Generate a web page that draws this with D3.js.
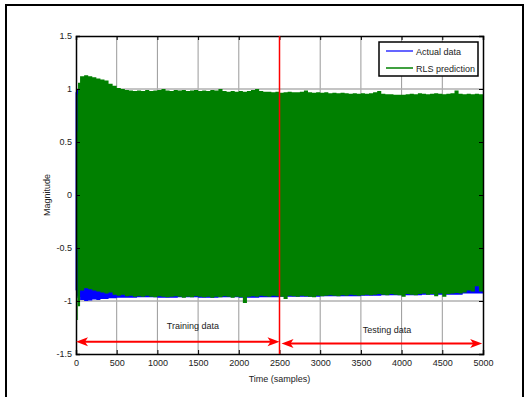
<!DOCTYPE html>
<html>
<head>
<meta charset="utf-8">
<script src="https://cdn.jsdelivr.net/npm/d3@7"></script>
<style>
  body { margin: 0; background: #fff; }
  text { font-family: "Liberation Sans", Arial, sans-serif; fill: #222; }
</style>
</head>
<body>
<svg id="canvas" width="530" height="397"></svg>
<script>
// envelope of the RLS prediction (green)
const predX = [0, 8, 16, 25].concat(d3.range(50, 5001, 50));
const predUpper = [0, 0.6, 0.95, 1.06,
    1.12, 1.13, 1.12, 1.11, 1.10, 1.09, 1.08, 1.05, 1.03, 1.01,
    1.00, 0.99, 0.985, 0.98, 0.985, 0.98, 0.99, 0.98, 0.985, 0.99,
    1.00, 0.985, 0.98, 0.99, 0.985, 0.99, 0.98, 0.985, 0.99, 0.98,
    0.985, 0.98, 0.99, 0.985, 1.00, 0.98, 0.975, 0.98, 0.975, 0.98,
    0.975, 0.98, 0.99, 1.00, 0.98, 0.975, 0.975, 0.97, 0.975, 0.965,
    0.97, 0.975, 0.97, 0.97, 0.975, 0.985, 0.97, 0.965, 0.97, 0.965,
    0.97, 0.96, 0.965, 0.96, 0.965, 0.96, 0.955, 0.96, 0.955, 0.96,
    0.955, 0.96, 0.97, 0.98, 0.955, 0.95, 0.95, 0.945, 0.945, 0.945,
    0.95, 0.955, 0.95, 0.96, 0.955, 0.95, 0.955, 0.96, 0.955, 0.95,
    0.955, 0.96, 0.985, 0.955, 0.95, 0.955, 0.95, 0.955, 0.95, 0.95];
const predLower = [0, -0.5, -1.18, -1.05,
    -0.90, -0.88, -0.89, -0.90, -0.91, -0.92, -0.93, -0.92, -0.94, -0.95,
    -0.94, -0.955, -0.95, -0.96, -0.955, -0.96, -0.95, -0.96, -0.965, -0.955,
    -0.96, -0.965, -0.96, -0.955, -0.96, -0.97, -0.96, -0.965, -0.955, -0.96,
    -0.965, -0.96, -0.97, -0.96, -0.965, -0.955, -0.96, -0.97, -0.96, -0.965,
    -1.02, -0.96, -0.955, -0.96, -0.95, -0.955, -0.96, -0.95, -0.955, -0.96,
    -0.98, -0.95, -0.955, -0.96, -0.95, -0.955, -0.96, -0.965, -0.95, -0.955,
    -0.95, -0.945, -0.95, -0.955, -0.945, -0.95, -0.94, -0.945, -0.95, -0.945,
    -0.94, -0.945, -0.94, -0.935, -0.94, -0.945, -0.935, -0.94, -0.945, -0.96,
    -0.935, -0.94, -0.945, -0.935, -0.93, -0.94, -0.935, -0.955, -0.93, -0.96,
    -0.935, -0.93, -0.925, -0.93, -0.92, -0.90, -0.91, -0.86, -0.91, -0.91];

// envelope of the actual data (blue)
const actualX = [0, 8, 16, 25, 50, 100, 150, 200, 250, 300, 400, 500,
    750, 1000, 1250, 1500, 1750, 2000, 2250, 2500, 2750, 3000, 3250,
    3500, 3750, 4000, 4250, 4500, 4750, 4900, 5000];
const actualUpper = [0.97, 1.0, 1.0, 0.98, 0.97, 0.95, 0.95, 0.95, 0.95, 0.95, 0.95, 0.95,
    0.95, 0.95, 0.95, 0.95, 0.95, 0.95, 0.95, 0.95, 0.95, 0.95, 0.95,
    0.94, 0.94, 0.93, 0.93, 0.93, 0.93, 0.93, 0.93];
const actualLower = [-0.9, -0.95, -0.97, -0.96, -0.99, -1.0, -0.995, -0.985, -0.99, -0.98, -0.975, -0.97,
    -0.965, -0.97, -0.965, -0.97, -0.965, -0.97, -0.965, -0.96, -0.96, -0.955, -0.955,
    -0.95, -0.945, -0.945, -0.94, -0.94, -0.93, -0.93, -0.92];

const xTicks = d3.range(0, 5001, 500);
const yTicks = [-1.5, -1, -0.5, 0, 0.5, 1, 1.5];
const splitSample = 2500;
const legendLabels = ['Actual data', 'RLS prediction'];
const legendColors = ['#0000ff', '#008000'];

let canvas = d3.select('#canvas');

// outer figure frame
canvas.append('rect')
    .attr('x', 6).attr('y', 5)
    .attr('width', 517).attr('height', 400)
    .attr('fill', 'none').attr('stroke', '#000').attr('stroke-width', 2);

let x = d3.scaleLinear().domain([0, 5000]).range([76, 483]);
let y = d3.scaleLinear().domain([-1.5, 1.5]).range([354, 36]);

// grid
canvas.append('g').selectAll('line')
    .data(xTicks.slice(1, -1))
    .enter().append('line')
    .attr('x1', d => x(d)).attr('x2', d => x(d))
    .attr('y1', y(1.5)).attr('y2', y(-1.5))
    .attr('stroke', '#999').attr('stroke-width', 1);

canvas.append('g').selectAll('line')
    .data(yTicks.slice(1, -1))
    .enter().append('line')
    .attr('x1', x(0)).attr('x2', x(5000))
    .attr('y1', d => y(d)).attr('y2', d => y(d))
    .attr('stroke', '#b0b0b0').attr('stroke-width', 1.5);

// signal envelopes
let actualArea = d3.area()
    .curve(d3.curveStepAfter)
    .x((d, i) => x(actualX[i]))
    .y0((d, i) => y(actualLower[i]))
    .y1((d, i) => y(actualUpper[i]));

let predArea = d3.area()
    .curve(d3.curveStepAfter)
    .x((d, i) => x(predX[i]))
    .y0((d, i) => y(predLower[i]))
    .y1((d, i) => y(predUpper[i]));

canvas.append('path')
    .datum(actualX)
    .attr('d', actualArea)
    .attr('fill', legendColors[0]);

canvas.append('path')
    .datum(predX)
    .attr('d', predArea)
    .attr('fill', legendColors[1]);

// left edge of the actual data runs over the whole band
canvas.append('line')
    .attr('x1', x(4)).attr('x2', x(4))
    .attr('y1', y(0.97)).attr('y2', y(-0.9))
    .attr('stroke', legendColors[0]).attr('stroke-width', 1.5);

// axes
canvas.append('g')
    .attr('transform', 'translate(0,' + y(-1.5) + ')')
    .call(d3.axisBottom(x).tickValues(xTicks).tickSize(-4).tickPadding(6).tickFormat(d3.format('d')));
canvas.append('g')
    .attr('transform', 'translate(0,' + y(1.5) + ')')
    .call(d3.axisTop(x).tickValues(xTicks).tickSize(-4).tickFormat(''));
canvas.append('g')
    .attr('transform', 'translate(' + x(0) + ',0)')
    .call(d3.axisLeft(y).tickValues(yTicks).tickSize(-4).tickPadding(4).tickFormat(d => d));
canvas.append('g')
    .attr('transform', 'translate(' + x(5000) + ',0)')
    .call(d3.axisRight(y).tickValues(yTicks).tickSize(-4).tickFormat(''));

canvas.selectAll('.domain').attr('stroke', '#000').attr('stroke-width', 1.5);
canvas.selectAll('.tick line').attr('stroke', '#000');
canvas.selectAll('.tick text')
    .style('font-family', '"Liberation Sans", Arial, sans-serif')
    .style('font-size', '9px').attr('fill', '#222');

// split line
canvas.append('line')
    .attr('x1', x(splitSample)).attr('x2', x(splitSample))
    .attr('y1', y(1.5)).attr('y2', y(-1.5))
    .attr('stroke', '#ff0000').attr('stroke-width', 1.5);

// double arrows
const drawArrow = (from, to, level) => {
    let y0 = y(level);
    let xa = x(from), xb = x(to);
    canvas.append('line')
        .attr('x1', xa + 6).attr('x2', xb - 6)
        .attr('y1', y0).attr('y2', y0)
        .attr('stroke', '#ff0000').attr('stroke-width', 2);
    canvas.append('path')
        .attr('d', 'M' + xa + ',' + y0 + 'L' + (xa + 12) + ',' + (y0 - 4.5) + 'L' + (xa + 9) + ',' + y0 + 'L' + (xa + 12) + ',' + (y0 + 4.5) + 'Z')
        .attr('fill', '#ff0000');
    canvas.append('path')
        .attr('d', 'M' + xb + ',' + y0 + 'L' + (xb - 12) + ',' + (y0 - 4.5) + 'L' + (xb - 9) + ',' + y0 + 'L' + (xb - 12) + ',' + (y0 + 4.5) + 'Z')
        .attr('fill', '#ff0000');
};
drawArrow(0, splitSample, -1.385);
drawArrow(splitSample + 25, 4990, -1.4);

canvas.append('text')
    .attr('x', x(1437)).attr('y', y(-1.24) + 3)
    .attr('text-anchor', 'middle').style('font-size', '9px')
    .text('Training data');
canvas.append('text')
    .attr('x', x(3820)).attr('y', y(-1.27) + 3)
    .attr('text-anchor', 'middle').style('font-size', '9px')
    .text('Testing data');

// axis labels
canvas.append('text')
    .attr('x', (x(0) + x(5000)) / 2).attr('y', 382)
    .attr('text-anchor', 'middle').style('font-size', '9px')
    .text('Time (samples)');
canvas.append('text')
    .attr('transform', 'translate(50,' + y(0) + ') rotate(-90)')
    .attr('text-anchor', 'middle').style('font-size', '9px')
    .text('Magnitude');

// legend
let legend = canvas.append('g').attr('transform', 'translate(379,42)');
legend.append('rect')
    .attr('width', 99).attr('height', 34)
    .attr('fill', '#fff').attr('stroke', '#000').attr('stroke-width', 1.5);
legendLabels.forEach((label, i) => {
    legend.append('line')
        .attr('x1', 7).attr('x2', 34)
        .attr('y1', 9 + i * 17).attr('y2', 9 + i * 17)
        .attr('stroke', legendColors[i]).attr('stroke-width', i === 0 ? 2 : 1.5)
        .attr('opacity', i === 0 ? 0.6 : 1);
    legend.append('text')
        .attr('x', 37).attr('y', 12.5 + i * 17)
        .style('font-size', '9px')
        .text(label);
});
</script>
</body>
</html>
